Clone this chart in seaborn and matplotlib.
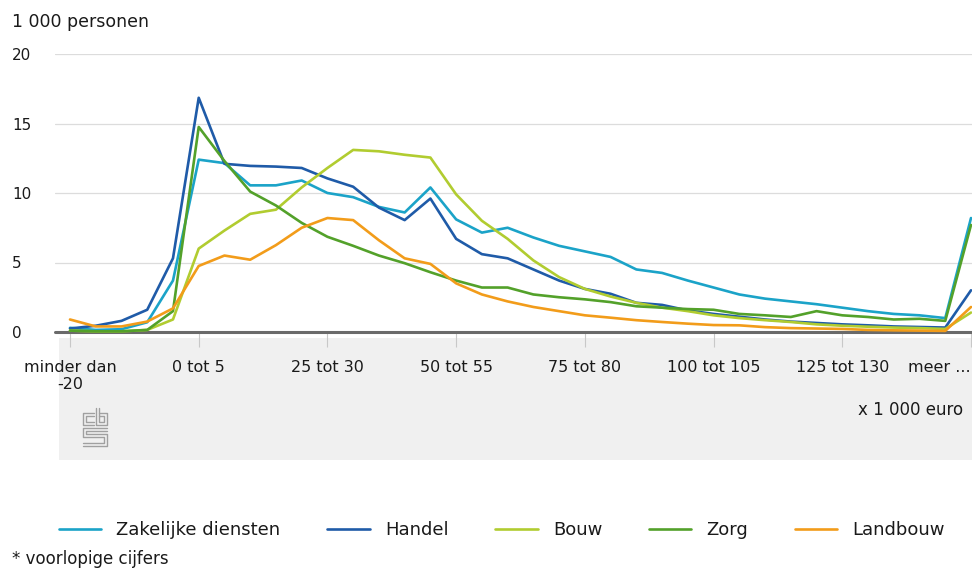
import matplotlib
matplotlib.use("Agg")
import matplotlib.pyplot as plt
from matplotlib.patches import Rectangle
from matplotlib.lines import Line2D
import seaborn as sns
import pandas as pd

# ---------------- data ----------------
categories = (["minder dan -20", "-20 tot -15", "-15 tot -10", "-10 tot -5", "-5 tot 0"]
              + [f"{a} tot {a + 5}" for a in range(0, 150, 5)]
              + ["meer dan 150"])

zakelijke_diensten = [0.3, 0.15, 0.2, 0.7, 3.7, 12.4, 12.15, 10.55, 10.55, 10.9, 10.0, 9.7,
                      9.0, 8.6, 10.4, 8.1, 7.15, 7.5, 6.8, 6.2, 5.8, 5.4, 4.5, 4.25, 3.7, 3.2,
                      2.7, 2.4, 2.2, 2.0, 1.75, 1.5, 1.3, 1.2, 1.0, 8.2]
handel = [0.25, 0.45, 0.8, 1.6, 5.3, 16.85, 12.1, 11.95, 11.9, 11.8, 11.05, 10.45, 8.95,
          8.05, 9.6, 6.7, 5.6, 5.3, 4.5, 3.7, 3.1, 2.75, 2.1, 1.95, 1.55, 1.3, 1.1, 0.9,
          0.75, 0.65, 0.55, 0.48, 0.4, 0.36, 0.32, 3.0]
bouw = [0.1, 0.05, 0.05, 0.15, 0.9, 6.0, 7.3, 8.5, 8.8, 10.4, 11.8, 13.1, 13.0, 12.75,
        12.55, 9.9, 8.0, 6.7, 5.15, 3.95, 3.1, 2.55, 2.1, 1.75, 1.5, 1.2, 1.0, 0.85, 0.72,
        0.55, 0.45, 0.38, 0.32, 0.28, 0.22, 1.4]
zorg = [0.1, 0.05, 0.05, 0.15, 1.5, 14.75, 12.3, 10.1, 9.1, 7.85, 6.85, 6.2, 5.5, 4.95,
        4.3, 3.7, 3.2, 3.2, 2.7, 2.5, 2.35, 2.15, 1.85, 1.75, 1.65, 1.6, 1.3, 1.2, 1.08,
        1.5, 1.2, 1.08, 0.9, 0.95, 0.8, 7.7]
landbouw = [0.9, 0.4, 0.4, 0.75, 1.7, 4.75, 5.5, 5.2, 6.25, 7.5, 8.2, 8.05, 6.6, 5.3, 4.9,
            3.5, 2.7, 2.2, 1.8, 1.5, 1.2, 1.03, 0.85, 0.72, 0.6, 0.5, 0.48, 0.35, 0.28,
            0.25, 0.22, 0.15, 0.12, 0.1, 0.08, 1.8]

series_names = ["Zakelijke diensten", "Handel", "Bouw", "Zorg", "Landbouw"]
series_values = [zakelijke_diensten, handel, bouw, zorg, landbouw]
colors = ["#1ba3c8", "#1f5ba8", "#b1cc30", "#53a12a", "#f29c1a"]

tick_categories = ["minder dan -20", "0 tot 5", "25 tot 30", "50 tot 55", "75 tot 80",
                   "100 tot 105", "125 tot 130", "meer dan 150"]
tick_labels = ["minder dan\n-20", "0 tot 5", "25 tot 30", "50 tot 55", "75 tot 80",
               "100 tot 105", "125 tot 130", "meer ..."]
y_ticks = [0, 5, 10, 15, 20]

rows = []
for name, vals in zip(series_names, series_values):
    for i, (cat, v) in enumerate(zip(categories, vals)):
        rows.append({"pos": i, "categorie": cat, "sector": name, "waarde": v})
df = pd.DataFrame(rows)

# ---------------- style ----------------
sns.set_theme(style="white")
plt.rcParams["font.family"] = ["DejaVu Sans"]
TXT = "#1a1a1a"

W, H = 972, 569
fig = plt.figure(figsize=(W / 100, H / 100), dpi=100)
fig.patch.set_facecolor("white")


def fx(x):
    return x / W


def fy(y):
    return 1 - y / H


ax = fig.add_axes([fx(55), fy(332), 1 - fx(55), (332 - 54) / H])
ax.patch.set_alpha(0)

sns.lineplot(data=df, x="pos", y="waarde", hue="sector", hue_order=series_names,
             palette=colors, linewidth=1.9, sort=False, ax=ax, legend=True)
for ln in ax.lines:
    ln.set_clip_on(False)
    ln.set_solid_joinstyle("round")
    ln.set_zorder(3)

spacing = (971 - 70) / 35
ax.set_xlim(-15 / spacing, (972 - 70) / spacing)
ax.set_ylim(0, 20)

for s in ax.spines.values():
    s.set_visible(False)

ax.set_yticks(y_ticks, [str(v) for v in y_ticks])
ax.yaxis.grid(True, color="#dcdcdc", linewidth=0.9)
ax.xaxis.grid(False)
ax.set_axisbelow(True)
ax.tick_params(axis="y", length=0, pad=31, labelsize=11, labelcolor=TXT)
for lab in ax.get_yticklabels():
    lab.set_horizontalalignment("left")

zero = ax.axhline(0, color="#6a6a6a", linewidth=2.2, zorder=2)
zero.set_clip_on(False)

tick_pos = [categories.index(c) for c in tick_categories]
ax.set_xticks(tick_pos, tick_labels)
ax.tick_params(axis="x", length=11, width=0.8, color="#c8c8c8", pad=9,
               labelsize=11.5, labelcolor=TXT, direction="out", bottom=True)
for lab in ax.get_xticklabels():
    lab.set_linespacing(1.15)
ax.get_xticklabels()[-1].set_horizontalalignment("right")
ax.set_xlabel("")
ax.set_ylabel("")

# grey band below axis
fig.patches.append(Rectangle((fx(59), fy(460)), 1 - fx(59), (460 - 338) / H,
                             transform=fig.transFigure, facecolor="#f0f0f0",
                             edgecolor="none", zorder=-5))

# texts
fig.text(fx(12), fy(22), "1 000 personen", fontsize=12.5, color=TXT, va="center", ha="left")
fig.text(fx(963), fy(410), "x 1 000 euro", fontsize=12, color=TXT, va="center", ha="right")
fig.text(fx(12), fy(559), "* voorlopige cijfers", fontsize=12, color=TXT, va="center", ha="left")

# cbs logo (approximation)
logo_paths = [
    [(94, 413), (83, 413), (83, 425), (94, 425)],
    [(94, 416), (86, 416), (86, 422), (94, 422)],
    [(96, 408), (96, 425), (107, 425), (107, 413), (99, 413)],
    [(99, 408), (99, 422), (104, 422), (104, 416), (99, 416)],
    [(107, 428), (83, 428), (83, 437), (104, 437), (104, 443), (83, 443)],
    [(107, 431), (86, 431), (86, 434), (107, 434), (107, 446), (83, 446)],
]
for p in logo_paths:
    fig.lines.append(Line2D([fx(x) for x, _ in p], [fy(y) for _, y in p],
                            transform=fig.transFigure, color="#a0a0a0", linewidth=1.0))

# legend
handles, labels = ax.get_legend_handles_labels()
ax.get_legend().remove()
leg = fig.legend(handles, labels, loc="center left", bbox_to_anchor=(fx(59), fy(530)),
                 ncol=5, frameon=False, fontsize=13, handlelength=2.33,
                 handletextpad=0.85, columnspacing=2.6, borderpad=0, borderaxespad=0)
for t in leg.get_texts():
    t.set_color(TXT)
for lh in leg.get_lines():
    lh.set_linewidth(1.9)

fig.savefig("out.png", dpi=100, facecolor="white")
